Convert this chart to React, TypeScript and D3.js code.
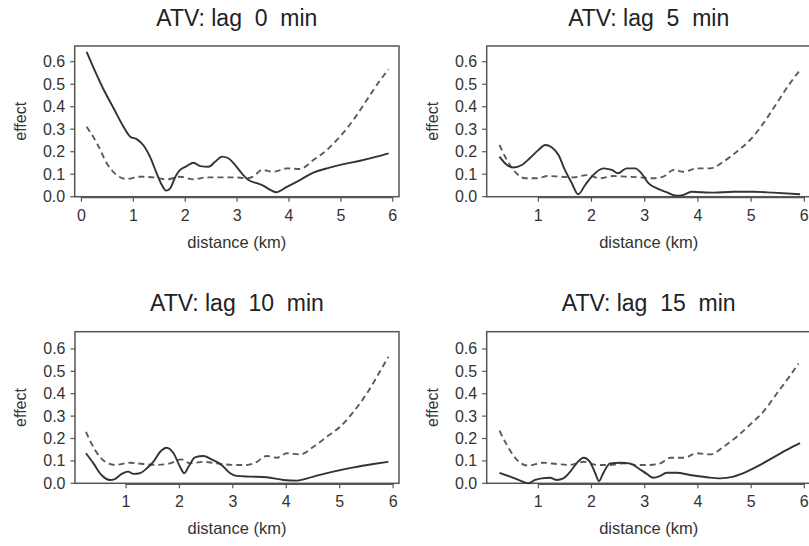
import React from "react";
import * as d3 from "d3";

// ---- data (distance km, effect) ----
const titles = ["ATV: lag  0  min", "ATV: lag  5  min", "ATV: lag  10  min", "ATV: lag  15  min"];
const xTickValues = [[0, 1, 2, 3, 4, 5, 6], [1, 2, 3, 4, 5, 6], [1, 2, 3, 4, 5, 6], [1, 2, 3, 4, 5, 6]];
const yTickValues = [0, 0.1, 0.2, 0.3, 0.4, 0.5, 0.6];

const solid0: [number, number][] = [
  [0.10, 0.644], [0.42, 0.48], [0.62, 0.393], [0.81, 0.311], [0.94, 0.267], [1.07, 0.255], [1.19, 0.23],
  [1.32, 0.178], [1.45, 0.104], [1.55, 0.052], [1.63, 0.027], [1.71, 0.037], [1.81, 0.089], [1.90, 0.119],
  [2.03, 0.136], [2.16, 0.151], [2.29, 0.136], [2.45, 0.133], [2.58, 0.156], [2.71, 0.178], [2.83, 0.171],
  [2.96, 0.141], [3.09, 0.104], [3.22, 0.074], [3.38, 0.06], [3.51, 0.048], [3.64, 0.03], [3.75, 0.02],
  [3.96, 0.044], [4.21, 0.074], [4.47, 0.107], [4.73, 0.126], [5.05, 0.145], [5.37, 0.16], [5.69, 0.178], [5.92, 0.193],
];
const dashed0: [number, number][] = [
  [0.10, 0.311], [0.30, 0.237], [0.49, 0.148], [0.68, 0.096], [0.87, 0.079], [1.13, 0.089], [1.39, 0.086],
  [1.65, 0.077], [1.90, 0.089], [2.16, 0.077], [2.42, 0.086], [2.67, 0.086], [2.93, 0.086], [3.19, 0.082],
  [3.31, 0.089], [3.48, 0.119], [3.70, 0.111], [3.96, 0.126], [4.21, 0.123], [4.47, 0.163], [4.73, 0.208],
  [4.98, 0.267], [5.24, 0.341], [5.50, 0.43], [5.76, 0.519], [5.92, 0.566],
];
const solid5: [number, number][] = [
  [0.27, 0.178], [0.41, 0.141], [0.53, 0.13], [0.69, 0.141], [0.84, 0.171], [1.00, 0.207], [1.13, 0.23],
  [1.25, 0.22], [1.38, 0.185], [1.50, 0.119], [1.63, 0.06], [1.75, 0.011], [1.88, 0.052], [2.03, 0.096],
  [2.22, 0.126], [2.38, 0.119], [2.50, 0.104], [2.66, 0.126], [2.82, 0.126], [2.94, 0.104], [3.07, 0.06],
  [3.23, 0.037], [3.41, 0.02], [3.60, 0.004], [3.73, 0.008], [3.88, 0.022], [4.04, 0.02], [4.29, 0.018],
  [4.67, 0.022], [5.04, 0.022], [5.42, 0.018], [5.92, 0.011],
];
const dashed5: [number, number][] = [
  [0.27, 0.23], [0.41, 0.163], [0.56, 0.111], [0.75, 0.082], [0.97, 0.082], [1.19, 0.092], [1.41, 0.089],
  [1.66, 0.086], [1.91, 0.096], [2.16, 0.082], [2.41, 0.092], [2.66, 0.089], [2.91, 0.086], [3.16, 0.082],
  [3.35, 0.089], [3.54, 0.119], [3.73, 0.111], [3.98, 0.126], [4.23, 0.126], [4.48, 0.156], [4.73, 0.2],
  [4.98, 0.252], [5.23, 0.326], [5.48, 0.415], [5.73, 0.504], [5.92, 0.563],
];
const solid10: [number, number][] = [
  [0.25, 0.134], [0.39, 0.089], [0.54, 0.037], [0.70, 0.015], [0.79, 0.019], [0.92, 0.042], [1.04, 0.052],
  [1.14, 0.042], [1.26, 0.045], [1.39, 0.067], [1.51, 0.096], [1.64, 0.141], [1.76, 0.159], [1.89, 0.134],
  [2.01, 0.074], [2.09, 0.045], [2.17, 0.074], [2.29, 0.116], [2.45, 0.122], [2.60, 0.107], [2.79, 0.082],
  [2.95, 0.045], [3.07, 0.033], [3.32, 0.03], [3.63, 0.027], [3.95, 0.015], [4.20, 0.012], [4.51, 0.03],
  [4.88, 0.052], [5.26, 0.071], [5.63, 0.086], [5.91, 0.096],
];
const dashed10: [number, number][] = [
  [0.25, 0.23], [0.42, 0.149], [0.61, 0.096], [0.79, 0.082], [1.07, 0.092], [1.32, 0.086], [1.57, 0.082],
  [1.82, 0.089], [2.04, 0.107], [2.20, 0.089], [2.45, 0.096], [2.70, 0.089], [3.01, 0.082], [3.26, 0.082],
  [3.45, 0.096], [3.63, 0.122], [3.82, 0.114], [4.01, 0.134], [4.26, 0.129], [4.51, 0.163], [4.76, 0.208],
  [5.01, 0.253], [5.26, 0.32], [5.51, 0.402], [5.75, 0.498], [5.91, 0.565],
];
const solid15: [number, number][] = [
  [0.27, 0.047], [0.47, 0.03], [0.66, 0.012], [0.81, 0.0], [0.94, 0.015], [1.06, 0.022], [1.22, 0.025],
  [1.35, 0.015], [1.47, 0.022], [1.60, 0.052], [1.72, 0.089], [1.85, 0.114], [1.97, 0.096], [2.07, 0.045],
  [2.14, 0.01], [2.22, 0.045], [2.35, 0.089], [2.54, 0.092], [2.72, 0.089], [2.88, 0.067], [3.04, 0.042],
  [3.16, 0.025], [3.29, 0.033], [3.41, 0.047], [3.60, 0.047], [3.85, 0.037], [4.17, 0.027], [4.42, 0.022],
  [4.67, 0.03], [4.92, 0.052], [5.17, 0.082], [5.42, 0.116], [5.67, 0.149], [5.92, 0.179],
];
const dashed15: [number, number][] = [
  [0.27, 0.235], [0.41, 0.171], [0.59, 0.107], [0.81, 0.079], [1.09, 0.092], [1.35, 0.086], [1.60, 0.082],
  [1.85, 0.096], [2.10, 0.082], [2.35, 0.082], [2.60, 0.089], [2.85, 0.082], [3.10, 0.082], [3.29, 0.089],
  [3.48, 0.114], [3.73, 0.114], [3.98, 0.134], [4.23, 0.129], [4.48, 0.163], [4.73, 0.208], [4.98, 0.262],
  [5.23, 0.32], [5.48, 0.4], [5.73, 0.48], [5.89, 0.535],
];

const solidSeries = [solid0, solid5, solid10, solid15];
const dashedSeries = [dashed0, dashed5, dashed10, dashed15];

// ---- layout ----
const panels = [
  { left: 74.7, right: 399, top: 46, bottom: 196.7, xDom: [-0.13, 6.12], yMax: 0.67 },
  { left: 486.7, right: 810.7, top: 46, bottom: 196.7, xDom: [0.03, 6.12], yMax: 0.67 },
  { left: 75, right: 399, top: 331.7, bottom: 483.3, xDom: [0.045, 6.11], yMax: 0.677 },
  { left: 486.7, right: 810.7, top: 331.7, bottom: 483.3, xDom: [0.03, 6.12], yMax: 0.677 },
];

const FONT = "'Liberation Sans', Arial, Helvetica, sans-serif";
const TEXT = "#333";
const AXIS = "#555";

function Panel({ i }: { i: number }) {
  const p = panels[i];
  const x = d3.scaleLinear().domain(p.xDom).range([p.left, p.right]);
  const y = d3.scaleLinear().domain([0, p.yMax]).range([p.bottom, p.top]);
  const line = d3
    .line<[number, number]>()
    .x((d) => x(d[0]))
    .y((d) => y(d[1]))
    .curve(d3.curveMonotoneX);
  const cx = (p.left + p.right) / 2;
  const cy = (p.top + p.bottom) / 2;
  const xt = xTickValues[i];
  return (
    <g>
      <text
        x={cx}
        y={p.top - 20.5}
        textAnchor="middle"
        fontSize={23}
        fill="#222"
        fontFamily={FONT}
        style={{ whiteSpace: "pre" }}
      >
        {titles[i]}
      </text>
      <rect x={p.left} y={p.top} width={p.right - p.left} height={p.bottom - p.top} fill="none" stroke={AXIS} strokeWidth={1.5} />
      {/* y axis */}
      {yTickValues.map((v) => (
        <g key={"y" + v}>
          <line x1={p.left - 4.5} x2={p.left} y1={y(v)} y2={y(v)} stroke={AXIS} strokeWidth={1.2} />
          <text x={p.left - 9.5} y={y(v) + 5.5} textAnchor="end" fontSize={16} fill={TEXT} fontFamily={FONT}>
            {v.toFixed(1)}
          </text>
        </g>
      ))}
      {/* x axis */}
      <line x1={x(xt[0])} x2={x(xt[xt.length - 1])} y1={p.bottom + 1} y2={p.bottom + 1} stroke={AXIS} strokeWidth={1.2} />
      {xt.map((v) => (
        <g key={"x" + v}>
          <line x1={x(v)} x2={x(v)} y1={p.bottom} y2={p.bottom + 5} stroke={AXIS} strokeWidth={1.2} />
          <text x={x(v)} y={p.bottom + 24} textAnchor="middle" fontSize={16} fill={TEXT} fontFamily={FONT}>
            {v}
          </text>
        </g>
      ))}
      <text x={cx} y={p.bottom + 51} textAnchor="middle" fontSize={16.5} fill={TEXT} fontFamily={FONT}>
        distance (km)
      </text>
      <text
        transform={`translate(${p.left - 49},${cy}) rotate(-90)`}
        textAnchor="middle"
        fontSize={16}
        fill={TEXT}
        fontFamily={FONT}
      >
        effect
      </text>
      <path d={line(dashedSeries[i]) || ""} fill="none" stroke="#5a5a5a" strokeWidth={1.9} strokeDasharray="6,4" />
      <path d={line(solidSeries[i]) || ""} fill="none" stroke="#333" strokeWidth={1.9} />
    </g>
  );
}

export default function App() {
  return (
    <svg
      width={809}
      height={546}
      viewBox="0 0 809 546"
      style={{ position: "absolute", left: 0, top: 0, background: "#fff", overflow: "hidden" }}
    >
      <rect x={0} y={0} width={809} height={546} fill="#fff" />
      {[0, 1, 2, 3].map((i) => (
        <Panel key={i} i={i} />
      ))}
    </svg>
  );
}
